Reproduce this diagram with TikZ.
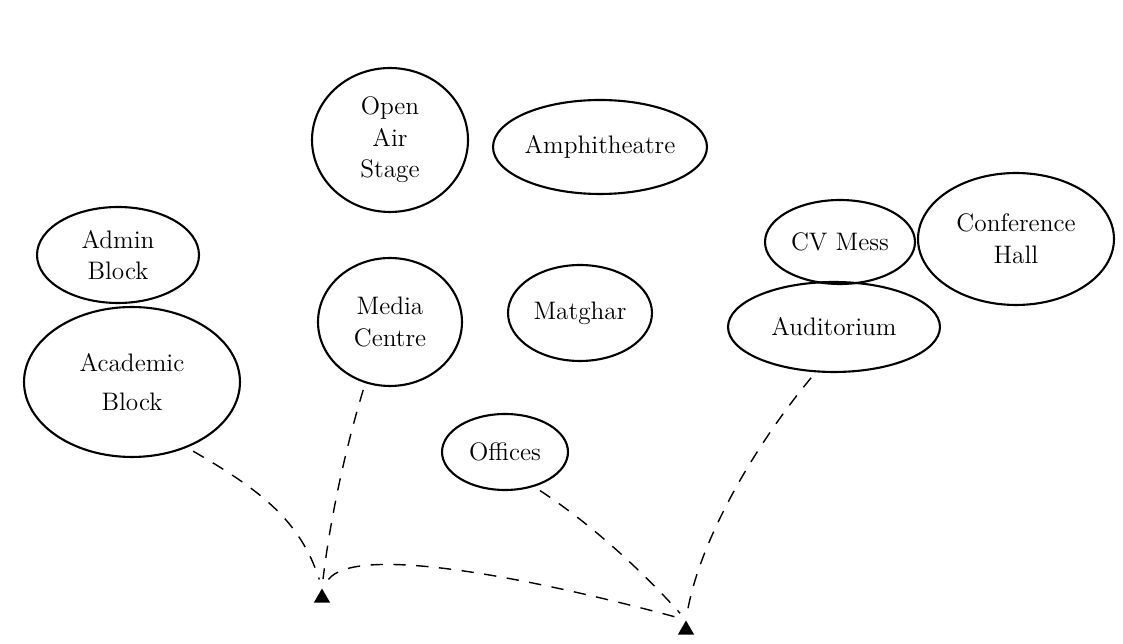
\documentclass[tikz,border=0pt]{standalone}
\usetikzlibrary{shapes.geometric}
\begin{document}
\begin{tikzpicture}[x=0.02cm,y=-0.02cm,
      every ellipse node/.style={draw,very thick,inner sep=0mm,align=center,font=\Large},
      gate/.style={regular polygon,regular polygon sides=3,fill,inner sep=0mm,minimum size=3.8mm},
      walkway/.style={thick,dash pattern=on 7pt off 6pt,shorten >=5pt,shorten <=4pt}]
      \useasboundingbox (0,0) rectangle (1123,644);

      \node[ellipse,minimum width=3.24cm,minimum height=1.92cm] (admin) at (118,255) {Admin\\Block};
      \node[ellipse,minimum width=4.32cm,minimum height=3.0cm] (acad) at (132,382) {Academic\\[4pt]Block};
      \node[ellipse,minimum width=3.12cm,minimum height=2.88cm] (stage) at (390,140) {Open\\Air\\Stage};
      \node[ellipse,minimum width=4.28cm,minimum height=1.88cm] (amphi) at (600,147) {Amphitheatre};
      \node[ellipse,minimum width=2.88cm,minimum height=2.56cm] (media) at (390,322) {Media\\Centre};
      \node[ellipse,minimum width=2.88cm,minimum height=1.92cm] (matghar) at (580,313) {Matghar};
      \node[ellipse,minimum width=2.52cm,minimum height=1.52cm] (offices) at (505,452) {Offices};
      \node[ellipse,minimum width=3.0cm,minimum height=1.68cm] (mess) at (840,242) {CV Mess};
      \node[ellipse,minimum width=3.92cm,minimum height=2.64cm] (conf) at (1016,239) {Conference\\Hall};
      \node[ellipse,minimum width=4.24cm,minimum height=1.8cm] (audi) at (834,327) {Auditorium};

      \node[gate] (gate1) at (322,598) {};
      \node[gate] (gate2) at (686,630) {};

      \draw[walkway] (acad.-50) .. controls (260,490) and (300,520) .. (gate1.north);
      \draw[walkway] (media.-112) .. controls (345,450) and (330,520) .. (gate1.north);
      \draw[walkway,shorten <=6pt] (gate1.north) .. controls (355,545) and (520,575) .. (gate2.north);
      \draw[walkway] (offices.-50) .. controls (600,530) and (650,580) .. (gate2.north);
      \draw[walkway] (audi.-112) .. controls (755,445) and (700,540) .. (gate2.north);
    \end{tikzpicture}
\end{document}
